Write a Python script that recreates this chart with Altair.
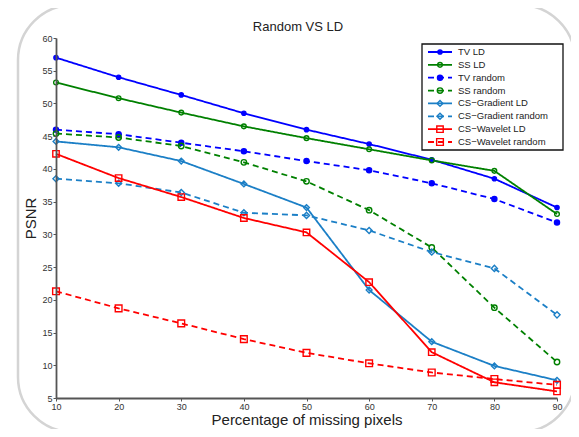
import altair as alt
import pandas as pd

x_vals = [10, 20, 30, 40, 50, 60, 70, 80, 90]
y_ticks = [5, 10, 15, 20, 25, 30, 35, 40, 45, 50, 55, 60]
series_names = ["TV LD", "SS LD", "TV random", "SS random",
                "CS\u2212Gradient LD", "CS\u2212Gradient random",
                "CS\u2212Wavelet LD", "CS\u2212Wavelet random"]

tv_ld = [57.0, 54.0, 51.3, 48.5, 46.0, 43.8, 41.4, 38.5, 34.1]
ss_ld = [53.2, 50.8, 48.6, 46.5, 44.7, 43.0, 41.3, 39.7, 33.1]
tv_random = [46.0, 45.3, 44.0, 42.7, 41.2, 39.8, 37.8, 35.4, 31.8]
ss_random = [45.4, 44.8, 43.5, 41.0, 38.1, 33.7, 28.0, 18.8, 10.5]
csg_ld = [44.2, 43.3, 41.2, 37.7, 34.1, 21.5, 13.6, 9.9, 7.7]
csg_random = [38.5, 37.8, 36.4, 33.3, 32.9, 30.6, 27.3, 24.8, 17.7]
csw_ld = [42.3, 38.6, 35.7, 32.5, 30.3, 22.7, 12.0, 7.4, 6.0]
csw_random = [21.3, 18.7, 16.4, 14.0, 11.9, 10.3, 8.9, 7.9, 7.0]

all_series = [tv_ld, ss_ld, tv_random, ss_random, csg_ld, csg_random, csw_ld, csw_random]

chart_title = "Random VS LD"

colors = ["#0000ff", "#008000", "#0000ff", "#008000",
          "#1b7fc6", "#1b7fc6", "#ff0000", "#ff0000"]
fills = ["#0000ff", "transparent", "#0000ff", "transparent",
         "transparent", "transparent", "transparent", "transparent"]
shapes = ["circle", "circle", "circle", "circle",
          "diamond", "diamond", "square", "square"]
sizes = [18, 45, 18, 45, 40, 40, 42, 42]
dashes = [[1, 0], [1, 0], [6, 4], [6, 4], [1, 0], [6, 4], [1, 0], [6, 4]]

rows = []
for name, vals in zip(series_names, all_series):
    for xv, yv in zip(x_vals, vals):
        rows.append({"x": xv, "value": yv, "series": name})
df = pd.DataFrame(rows)
legend_df = pd.DataFrame({"series": series_names})

FONT = "Liberation Sans"

stroke_enc = alt.Stroke("series:N", scale=alt.Scale(domain=series_names, range=colors), legend=None)
dash_enc = alt.StrokeDash("series:N", scale=alt.Scale(domain=series_names, range=dashes), legend=None)
shape_enc = alt.Shape("series:N", scale=alt.Scale(domain=series_names, range=shapes), legend=None)
fill_enc = alt.Fill("series:N", scale=alt.Scale(domain=series_names, range=fills), legend=None)
size_enc = alt.Size("series:N", scale=alt.Scale(domain=series_names, range=sizes), legend=None)

card = alt.Chart(alt.Data(values=[{}])).mark_rect(
    fill="transparent", stroke="#d4d4d4", strokeWidth=2.5, cornerRadius=55
).encode(
    x=alt.value(-38), x2=alt.value(519), y=alt.value(-33), y2=alt.value(394)
)

title_mark = alt.Chart(alt.Data(values=[{"t": chart_title}])).mark_text(
    font=FONT, fontSize=13, color="#222", align="center", baseline="middle"
).encode(x=alt.value(242), y=alt.value(-11), text="t:N")

x_axis = alt.Axis(values=x_vals, title="Percentage of missing pixels", grid=False, zindex=1)
y_axis = alt.Axis(values=y_ticks, title="PSNR", grid=False, zindex=1, labelOverlap=False)
x_scale = alt.Scale(domain=[10, 90], nice=False)
y_scale = alt.Scale(domain=[5, 60], nice=False)

lines = alt.Chart(df).mark_line(strokeWidth=1.8).encode(
    x=alt.X("x:Q", scale=x_scale, axis=x_axis),
    y=alt.Y("value:Q", scale=y_scale, axis=y_axis),
    stroke=stroke_enc, strokeDash=dash_enc, detail="series:N"
)
points = alt.Chart(df).mark_point(strokeWidth=1.4, opacity=1, filled=False).encode(
    x=alt.X("x:Q", scale=x_scale, axis=x_axis),
    y=alt.Y("value:Q", scale=y_scale, axis=y_axis),
    stroke=stroke_enc, shape=shape_enc, fill=fill_enc, size=size_enc
)
data_layer = alt.layer(lines, points)

leg_y = alt.Y("series:N", scale=alt.Scale(type="point", domain=series_names, range=[14, 104], padding=0), axis=None)
leg_box = alt.Chart(alt.Data(values=[{}])).mark_rect(
    fill="white", stroke="#111", strokeWidth=1.3
).encode(x=alt.value(366), x2=alt.value(507), y=alt.value(6), y2=alt.value(112))
leg_lines = alt.Chart(legend_df).mark_rule(strokeWidth=1.8).encode(
    x=alt.value(372), x2=alt.value(396), y=leg_y, stroke=stroke_enc, strokeDash=dash_enc
)
leg_points = alt.Chart(legend_df).mark_point(strokeWidth=1.4, opacity=1, filled=False).encode(
    x=alt.value(384), y=leg_y, stroke=stroke_enc, shape=shape_enc, fill=fill_enc, size=size_enc
)
leg_text = alt.Chart(legend_df).mark_text(
    align="left", baseline="middle", font=FONT, fontSize=9.5, color="#222"
).encode(x=alt.value(402), y=leg_y, text="series:N")
legend_layer = alt.layer(leg_box, leg_lines, leg_points, leg_text)

chart = alt.layer(card, title_mark, data_layer, legend_layer).resolve_scale(y="independent").properties(
    width=501, height=360,
    autosize=alt.AutoSizeParams(type="none"),
    padding={"left": 48, "top": 30, "right": 14, "bottom": 31},
).configure_view(stroke=None).configure_axis(
    domainColor="#555", domainWidth=1.8, tickColor="#555", tickSize=3, tickWidth=1,
    labelFont=FONT, labelFontSize=9, labelColor="#333", titleFont=FONT,
    titleFontWeight="normal", titleColor="#222", labelPadding=1, labelOverlap=False
).configure_axisX(titleFontSize=15, titlePadding=1, labelFlush=False
).configure_axisY(titleFontSize=15, titlePadding=3, labelOverlap=False)

chart.save("out.html", embed_options={"renderer": "svg", "actions": False})
